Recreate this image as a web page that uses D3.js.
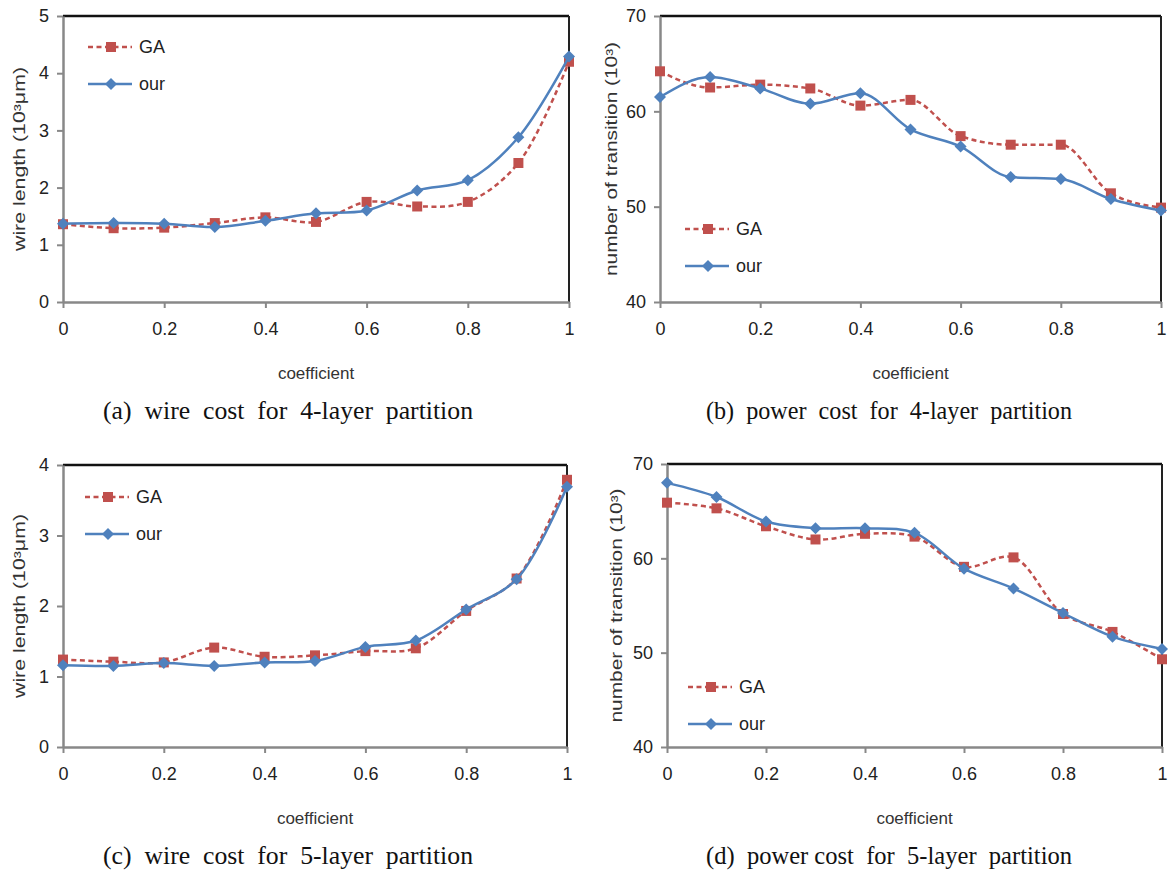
<!DOCTYPE html>
<html>
<head>
<meta charset="utf-8">
<script src="https://cdn.jsdelivr.net/npm/d3@7/dist/d3.min.js"></script>
<style>
  body { margin: 0; background: #fff; }
  svg { display: block; }
  .tick text { font-family: "Liberation Sans Narrow", "Liberation Sans", Arial, sans-serif; fill: #222; }
</style>
</head>
<body>
<div id="chart"></div>
<script>
// coefficient values on the x axis
const coef = [0, 0.1, 0.2, 0.3, 0.4, 0.5, 0.6, 0.7, 0.8, 0.9, 1];
const xTicks = [0, 0.2, 0.4, 0.6, 0.8, 1];

// (a) wire cost, 4-layer
const gaWire4 = [1.36, 1.29, 1.3, 1.38, 1.48, 1.4, 1.75, 1.67, 1.75, 2.43, 4.2];
const ourWire4 = [1.37, 1.38, 1.37, 1.31, 1.42, 1.55, 1.6, 1.95, 2.13, 2.88, 4.29];
const wireTicks4 = [0, 1, 2, 3, 4, 5];

// (b) power cost, 4-layer
const gaPower4 = [64.2, 62.5, 62.8, 62.4, 60.6, 61.2, 57.4, 56.5, 56.5, 51.4, 49.9];
const ourPower4 = [61.5, 63.6, 62.4, 60.8, 61.9, 58.1, 56.3, 53.1, 52.9, 50.8, 49.6];
const powerTicks = [40, 50, 60, 70];

// (c) wire cost, 5-layer
const gaWire5 = [1.24, 1.21, 1.2, 1.41, 1.28, 1.3, 1.36, 1.4, 1.93, 2.39, 3.79];
const ourWire5 = [1.16, 1.15, 1.19, 1.15, 1.2, 1.22, 1.42, 1.51, 1.95, 2.38, 3.69];
const wireTicks5 = [0, 1, 2, 3, 4];

// (d) power cost, 5-layer
const gaPower5 = [65.9, 65.3, 63.4, 62.0, 62.6, 62.3, 59.1, 60.1, 54.1, 52.2, 49.3];
const ourPower5 = [68.0, 66.5, 63.9, 63.2, 63.2, 62.7, 58.9, 56.8, 54.2, 51.7, 50.4];

const seriesNames = ['GA', 'our'];
const wireTitle = 'wire length (10\u00b3\u03bcm)';
const powerTitle = 'number of transition (10\u00b3)';
const xTitle = 'coefficient';

const red = '#c0504d', blue = '#4f81bd';

const panels = [
  { ga: gaWire4, our: ourWire4, ticks: wireTicks4, title: wireTitle,
    caption: '(a)  wire  cost  for  4-layer  partition', curve: d3.curveCatmullRom.alpha(0.5),
    left: 63, right: 569, top: 16, bottom: 302, titleX: 19, titleLen: 184,
    legX: 88, legY: 47, capX: 288, capLen: 370 },
  { ga: gaPower4, our: ourPower4, ticks: powerTicks, title: powerTitle,
    caption: '(b)  power  cost  for  4-layer  partition', curve: d3.curveMonotoneX,
    left: 660, right: 1161, top: 16, bottom: 302, titleX: 611, titleLen: 234,
    legX: 685, legY: 229, capX: 889, capLen: 366 },
  { ga: gaWire5, our: ourWire5, ticks: wireTicks5, title: wireTitle,
    caption: '(c)  wire  cost  for  5-layer  partition', curve: d3.curveCatmullRom.alpha(0.5),
    left: 63, right: 567, top: 465, bottom: 747, titleX: 19, titleLen: 184,
    legX: 85, legY: 497, capX: 288, capLen: 370 },
  { ga: gaPower5, our: ourPower5, ticks: powerTicks, title: powerTitle,
    caption: '(d)  power cost  for  5-layer  partition', curve: d3.curveCatmullRom.alpha(0.5),
    left: 667, right: 1162, top: 464, bottom: 747, titleX: 616, titleLen: 234,
    legX: 688, legY: 687, capX: 889, capLen: 366 }
];

const svg = d3.select('#chart').append('svg')
  .attr('width', 1168)
  .attr('height', 874);

function drawPanel(p) {
  const g = svg.append('g');
  const x = d3.scaleLinear().domain([0, 1]).range([p.left, p.right]);
  const y = d3.scaleLinear().domain(d3.extent(p.ticks)).range([p.bottom, p.top]);

  // top and right frame
  g.append('line').attr('x1', p.left).attr('x2', p.right).attr('y1', p.top).attr('y2', p.top)
    .attr('stroke', '#111').attr('stroke-width', 2.5);
  g.append('line').attr('x1', p.right).attr('x2', p.right).attr('y1', p.top).attr('y2', p.bottom)
    .attr('stroke', '#222').attr('stroke-width', 2);

  const yAxis = g.append('g')
    .attr('transform', `translate(${p.left},0)`)
    .call(d3.axisLeft(y).tickValues(p.ticks).tickFormat(d3.format('')).tickSize(6).tickSizeOuter(0).tickPadding(8));
  const xAxis = g.append('g')
    .attr('transform', `translate(0,${p.bottom})`)
    .call(d3.axisBottom(x).tickValues(xTicks).tickFormat(d3.format('')).tickSize(6).tickSizeOuter(0).tickPadding(14));

  [yAxis, xAxis].forEach(a => {
    a.select('.domain').attr('stroke', '#888').attr('stroke-width', 2.5);
    a.selectAll('.tick line').attr('stroke', '#888').attr('stroke-width', 2);
    a.selectAll('.tick text').style('font-size', '18px');
  });

  // y title
  g.append('text')
    .attr('transform', `translate(${p.titleX},${(p.top + p.bottom) / 2}) rotate(-90)`)
    .attr('text-anchor', 'middle')
    .attr('dy', '0.35em')
    .attr('textLength', p.titleLen)
    .attr('lengthAdjust', 'spacingAndGlyphs')
    .style('font-family', '"Liberation Sans", Arial, sans-serif')
    .style('font-size', '16px')
    .style('fill', '#333')
    .text(p.title);

  // x title
  g.append('text')
    .attr('x', (p.left + p.right) / 2)
    .attr('y', p.bottom + 77)
    .attr('text-anchor', 'middle')
    .style('font-family', '"Liberation Sans Narrow", "Liberation Sans", sans-serif')
    .style('font-size', '17px')
    .style('fill', '#333')
    .text(xTitle);

  // caption
  g.append('text')
    .attr('x', p.capX)
    .attr('y', p.bottom + 117)
    .attr('text-anchor', 'middle')
    .attr('textLength', p.capLen)
    .attr('lengthAdjust', 'spacingAndGlyphs')
    .style('font-family', '"Liberation Serif", "Times New Roman", serif')
    .style('font-size', '25px')
    .style('fill', '#111')
    .style('white-space', 'pre')
    .text(p.caption);

  const line = d3.line()
    .x((d, i) => x(coef[i]))
    .y(d => y(d))
    .curve(p.curve);

  const square = d3.symbol(d3.symbolSquare, 100);
  const diamond = d3.symbol(d3.symbolSquare, 72);

  // GA series
  g.append('path').datum(p.ga)
    .attr('d', line)
    .attr('fill', 'none')
    .attr('stroke', red)
    .attr('stroke-width', 2.5)
    .attr('stroke-dasharray', '5,3.5');
  g.selectAll('.ga-pt').data(p.ga).enter().append('path')
    .attr('class', 'ga-pt')
    .attr('d', square)
    .attr('transform', (d, i) => `translate(${x(coef[i])},${y(d)})`)
    .attr('fill', red);

  // our series
  g.append('path').datum(p.our)
    .attr('d', line)
    .attr('fill', 'none')
    .attr('stroke', blue)
    .attr('stroke-width', 2.5);
  g.selectAll('.our-pt').data(p.our).enter().append('path')
    .attr('class', 'our-pt')
    .attr('d', diamond)
    .attr('transform', (d, i) => `translate(${x(coef[i])},${y(d)}) rotate(45)`)
    .attr('fill', blue);

  // legend
  const leg = g.append('g').attr('transform', `translate(${p.legX},${p.legY})`);
  seriesNames.forEach((name, k) => {
    const row = leg.append('g').attr('transform', `translate(0,${k * 37})`);
    row.append('line').attr('x1', 0).attr('x2', 44).attr('y1', 0).attr('y2', 0)
      .attr('stroke', k === 0 ? red : blue)
      .attr('stroke-width', 2.5)
      .attr('stroke-dasharray', k === 0 ? '5,3.5' : null);
    row.append('path')
      .attr('d', k === 0 ? square : diamond)
      .attr('transform', k === 0 ? 'translate(23,0)' : 'translate(23,0) rotate(45)')
      .attr('fill', k === 0 ? red : blue);
    row.append('text')
      .attr('x', 51)
      .attr('dy', '0.36em')
      .style('font-family', '"Liberation Sans", Arial, sans-serif')
      .style('font-size', '18px')
      .style('fill', '#222')
      .text(name);
  });
}

panels.forEach(drawPanel);
</script>
</body>
</html>
